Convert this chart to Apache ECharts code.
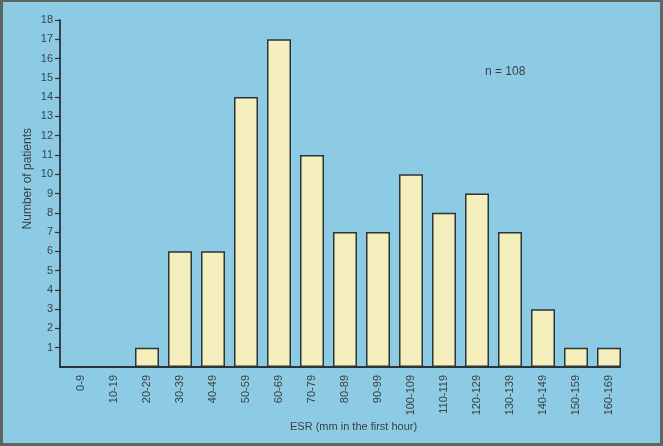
<!DOCTYPE html>
<html>
<head>
<meta charset="utf-8">
<script src="https://cdn.jsdelivr.net/npm/echarts@6/dist/echarts.min.js"></script>
<style>
  html, body { margin: 0; padding: 0; background: #5e6660; }
  #chart {
    position: absolute; left: 3px; top: 2px;
    width: 657px; height: 441px;
    background: #8dcbe4;
  }
</style>
</head>
<body>
<div id="chart"></div>
<script>
// ESR distribution, n = 108
var categories = ['0-9', '10-19', '20-29', '30-39', '40-49', '50-59', '60-69', '70-79',
  '80-89', '90-99', '100-109', '110-119', '120-129', '130-139', '140-149', '150-159', '160-169'];
var patients = [0, 0, 1, 6, 6, 14, 17, 11, 7, 7, 10, 8, 9, 7, 3, 1, 1];
var yTicks = [1, 2, 3, 4, 5, 6, 7, 8, 9, 10, 11, 12, 13, 14, 15, 16, 17, 18];

var font = 'Liberation Sans';
var ink = '#2b3436';

var chart = echarts.init(document.getElementById('chart'));
var option = {
  animation: false,
  grid: [
    // frame grid: axis lines + y ticks
    { left: 57, top: 18, right: 40, bottom: 76 },
    // bar grid: bands shifted a little to the right of the y axis
    { left: 61.5, top: 18, width: 561, bottom: 76 }
  ],
  xAxis: [
    {
      gridIndex: 0, type: 'value', min: 0, max: 1,
      axisLine: { show: true, onZero: false, lineStyle: { color: ink, width: 1.8 } },
      axisTick: { show: false }, axisLabel: { show: false }, splitLine: { show: false }
    },
    {
      gridIndex: 1, type: 'category', data: categories,
      axisLine: { show: false }, axisTick: { show: false },
      axisLabel: {
        rotate: 90, interval: 0, margin: 8,
        color: '#3a4244', fontFamily: font, fontSize: 11
      }
    }
  ],
  yAxis: [
    {
      gridIndex: 0, type: 'value', min: 0, max: 18, interval: 1,
      axisLine: { show: true, lineStyle: { color: ink, width: 1.8 } },
      axisTick: {
        show: true, length: 5, lineStyle: { color: ink, width: 1.2 },
        customValues: yTicks
      },
      axisLabel: {
        margin: 7, color: '#3a4244', fontFamily: font, fontSize: 11,
        customValues: yTicks
      },
      splitLine: { show: false }
    },
    {
      gridIndex: 1, type: 'value', min: 0, max: 18, show: false
    }
  ],
  graphic: [
    {
      type: 'text', left: 19, top: 126, rotation: Math.PI / 2,
      style: { text: 'Number of patients', fill: '#3a4244', font: '12px "Liberation Sans"' }
    },
    {
      type: 'text', left: 287, top: 419,
      style: { text: 'ESR (mm in the first hour)', fill: '#3a4244', font: '11px "Liberation Sans"' }
    },
    {
      type: 'text', left: 482, top: 64,
      style: { text: 'n = 108', fill: '#3a4244', font: '12px "Liberation Sans"' }
    }
  ],
  series: [{
    type: 'bar',
    xAxisIndex: 1, yAxisIndex: 1,
    // empty classes draw no bar at all
    data: patients.map(function (v) { return v === 0 ? '-' : v; }),
    barWidth: 24,
    itemStyle: { color: '#f4efbc', borderColor: ink, borderWidth: 1.5 }
  }]
};
chart.setOption(option);
</script>
</body>
</html>
